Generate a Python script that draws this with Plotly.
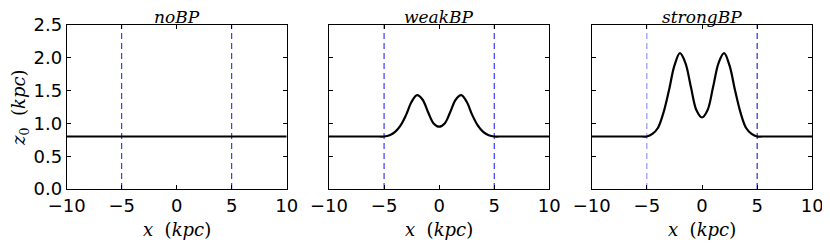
import plotly.graph_objects as go

# ---- data ----
x_kpc = [-10, -5.5, -5, -4.5, -4, -3.5, -3, -2.5, -2, -1.5, -1, -0.5, 0,
         0.5, 1, 1.5, 2, 2.5, 3, 3.5, 4, 4.5, 5, 5.5, 10]
z0_noBP = [0.80] * len(x_kpc)
z0_weakBP = [0.80, 0.80, 0.80, 0.82, 0.87, 0.97, 1.13, 1.33, 1.43, 1.36, 1.17, 1.00, 0.95,
             1.00, 1.17, 1.36, 1.43, 1.33, 1.13, 0.97, 0.87, 0.82, 0.80, 0.80, 0.80]
z0_strongBP = [0.80, 0.80, 0.80, 0.84, 0.93, 1.16, 1.50, 1.88, 2.07, 1.92, 1.55, 1.20, 1.09,
               1.20, 1.55, 1.92, 2.07, 1.88, 1.50, 1.16, 0.93, 0.84, 0.80, 0.80, 0.80]
panel_titles = ["noBP", "weakBP", "strongBP"]
bound_x = [-5, 5]
bound_colors = [["#1010ff", "#1010ff"], ["#1010ff", "#1010ff"], ["#7f7fff", "#0000b8"]]
x_ticks = [-10, -5, 0, 5, 10]
y_ticks = [0.0, 0.5, 1.0, 1.5, 2.0, 2.5]

OFF = 8  # page body margin
W, H = 830 - OFF, 245 - OFF


def px(v):
    return (v - OFF) / W


def py(v):
    return 1 - (v - OFF) / H


x_doms = [(66.7, 286.7), (329.0, 549.3), (591.7, 812.3)]
y_dom = (py(189), py(25))

fig = go.Figure()
series = [z0_noBP, z0_weakBP, z0_strongBP]
tick_font = dict(family="DejaVu Sans", size=18, color="black")
serif = "DejaVu Serif"

for i, ys in enumerate(series):
    n = "" if i == 0 else str(i + 1)
    xa, ya = "x" + n, "y" + n
    for bx, bc in zip(bound_x, bound_colors[i]):
        fig.add_trace(go.Scatter(x=[bx, bx], y=[0, 2.5], mode="lines", xaxis=xa, yaxis=ya,
                                 line=dict(color=bc, width=1.0, dash="6px,4px"),
                                 showlegend=False, hoverinfo="skip"))
    fig.add_trace(go.Scatter(x=x_kpc, y=ys, mode="lines", xaxis=xa, yaxis=ya,
                             line=dict(color="black", width=2.2, shape="spline", smoothing=1.0),
                             showlegend=False))
    fig.layout["xaxis" + n] = dict(
        domain=[px(x_doms[i][0]), px(x_doms[i][1])], anchor=ya, range=[-10, 10],
        tickvals=x_ticks, ticks="inside", ticklen=4, tickcolor="black",
        showline=True, linecolor="black", linewidth=1, mirror="allticks",
        showgrid=False, zeroline=False, tickfont=tick_font, automargin=False)
    fig.layout["yaxis" + n] = dict(
        domain=list(y_dom), anchor=xa, range=[0, 2.5],
        tickvals=y_ticks, ticktext=["%.1f" % v for v in y_ticks], showticklabels=(i == 0),
        ticks="inside", ticklen=4, tickcolor="black",
        showline=True, linecolor="black", linewidth=1, mirror="allticks",
        showgrid=False, zeroline=False, tickfont=tick_font, automargin=False)
    cx = px((x_doms[i][0] + x_doms[i][1]) / 2)
    fig.add_annotation(x=cx, y=py(17.5), xref="paper", yref="paper", showarrow=False,
                       xanchor="center", yanchor="middle",
                       text="<i>%s</i>" % panel_titles[i],
                       font=dict(family=serif, size=17, color="black"))
    fig.add_annotation(x=cx, y=py(229), xref="paper", yref="paper", showarrow=False,
                       xanchor="center", yanchor="middle",
                       text="<i>x</i>  (<i>kpc</i>)",
                       font=dict(family=serif, size=18, color="black"))

fig.add_annotation(x=px(20), y=py(108), xref="paper", yref="paper",
                   showarrow=False, textangle=-90, xanchor="center", yanchor="middle",
                   text="<i>z</i><sub>0</sub>  (<i>kpc</i>)",
                   font=dict(family=serif, size=18, color="black"))

fig.update_layout(width=W, height=H,
                  margin=dict(l=0, r=0, t=0, b=0, pad=0, autoexpand=False),
                  plot_bgcolor="white", paper_bgcolor="white")
fig.write_html("out.html")
